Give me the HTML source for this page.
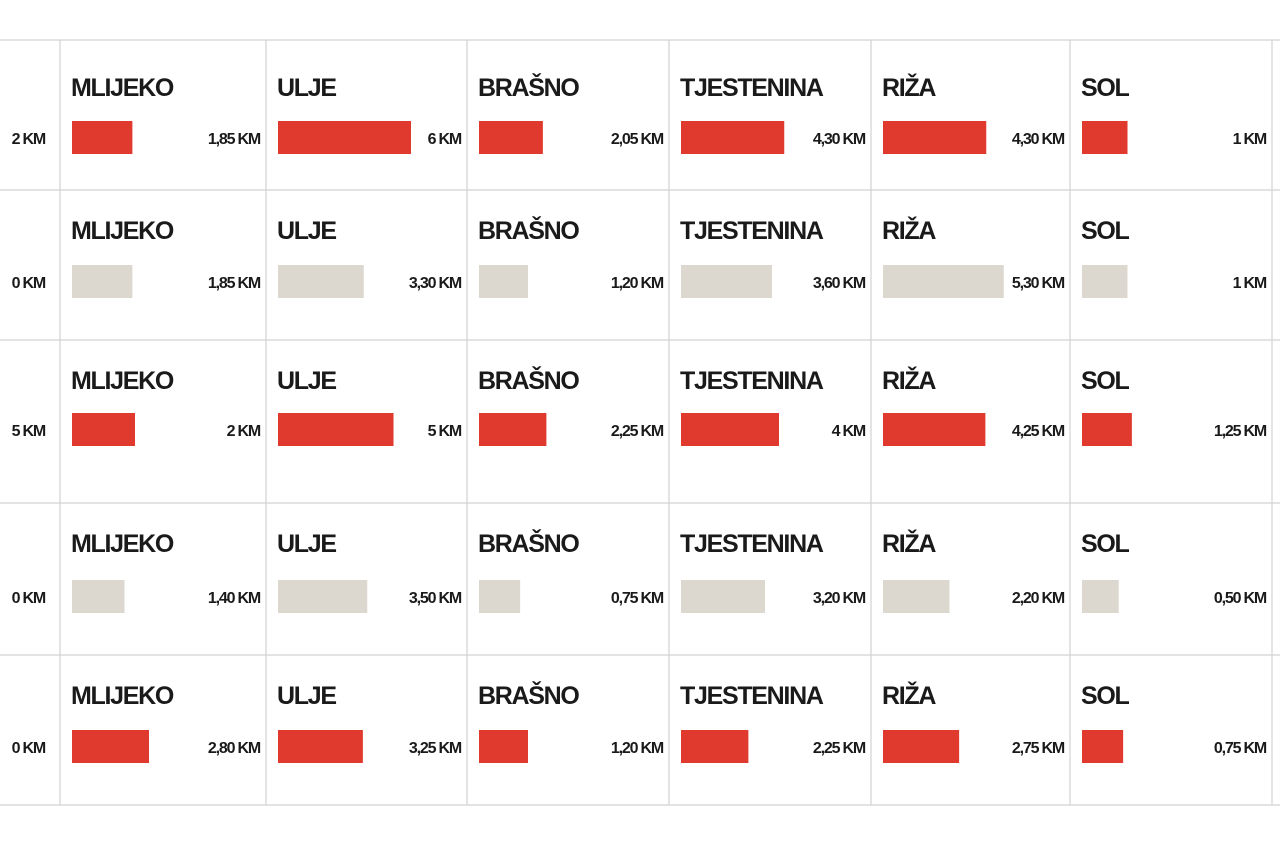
<!DOCTYPE html>
<html><head><meta charset="utf-8"><style>
html,body{margin:0;padding:0;background:#fff;}
svg{display:block;}
.t{font-family:"Liberation Sans",sans-serif;font-weight:bold;font-size:25px;fill:#1a1a1a;letter-spacing:-1.3px;}
.v{font-family:"Liberation Sans",sans-serif;font-weight:bold;font-size:16px;fill:#1a1a1a;letter-spacing:-1.2px;}
</style></head><body>
<svg id="chart" width="1280" height="853" viewBox="0 0 1280 853" xmlns="http://www.w3.org/2000/svg"></svg>
<script>
const categories = ["MLIJEKO","ULJE","BRAŠNO","TJESTENINA","RIŽA","SOL"];
const row1 = [1.85, 6, 2.05, 4.30, 4.30, 1];
const row2 = [1.85, 3.30, 1.20, 3.60, 5.30, 1];
const row3 = [2, 5, 2.25, 4, 4.25, 1.25];
const row4 = [1.40, 3.50, 0.75, 3.20, 2.20, 0.50];
const row5 = [2.80, 3.25, 1.20, 2.25, 2.75, 0.75];
const rowsData = [row1, row2, row3, row4, row5];
const leftLabels = ["2 KM", "0 KM", "5 KM", "0 KM", "0 KM"];
const valueLabels = [
  ["1,85 KM","6 KM","2,05 KM","4,30 KM","4,30 KM","1 KM"],
  ["1,85 KM","3,30 KM","1,20 KM","3,60 KM","5,30 KM","1 KM"],
  ["2 KM","5 KM","2,25 KM","4 KM","4,25 KM","1,25 KM"],
  ["1,40 KM","3,50 KM","0,75 KM","3,20 KM","2,20 KM","0,50 KM"],
  ["2,80 KM","3,25 KM","1,20 KM","2,25 KM","2,75 KM","0,75 KM"]
];

const svg = document.getElementById('chart');
const NS = 'http://www.w3.org/2000/svg';
const colX = [60, 266, 467, 669, 871, 1070, 1272];
const rowY = [40, 190, 340, 503, 655, 805];
const titleOff = [47, 40, 40, 40, 40];
const barOff = [98, 92, 90, 94, 92];
const colors = ['#e03a2e','#dcd8cf','#e03a2e','#dcd8cf','#e03a2e'];
function xScale(v){ return 28 + 17.5 * v; }

function mk(tag, attrs){ const e = document.createElementNS(NS, tag); for (const k in attrs) e.setAttribute(k, attrs[k]); svg.appendChild(e); return e; }

rowY.forEach((y,i)=>{
  const l = mk('line',{x1:0,x2:1280,y1:y,y2:y,stroke:'#d2d2d2','stroke-width':1.2});
  
  
});
colX.forEach(x=>{
  const l = mk('line',{x1:x,x2:x,y1:40,y2:805,stroke:'#d2d2d2','stroke-width':1.2});
  
  
});

rowsData.forEach((row, r)=>{
  const top = rowY[r];
  const lt = mk('text',{x:45,y:top+barOff[r]+6,'text-anchor':'end',class:'v'});
  lt.textContent = leftLabels[r];
  
  
  row.forEach((v, c)=>{
    const x0 = colX[c];
    const t = mk('text',{x:x0+11,y:top+titleOff[r]+9,class:'t'});
    t.textContent = categories[c];
    
    
    const b = mk('rect',{x:x0+12,y:top+barOff[r]-17,width:xScale(v),height:33,fill:colors[r]});
    
    
    const vt = mk('text',{x:colX[c+1]-6,y:top+barOff[r]+6,'text-anchor':'end',class:'v'});
    vt.textContent = valueLabels[r][c];
    
    
  });
});
</script>
</body></html>
